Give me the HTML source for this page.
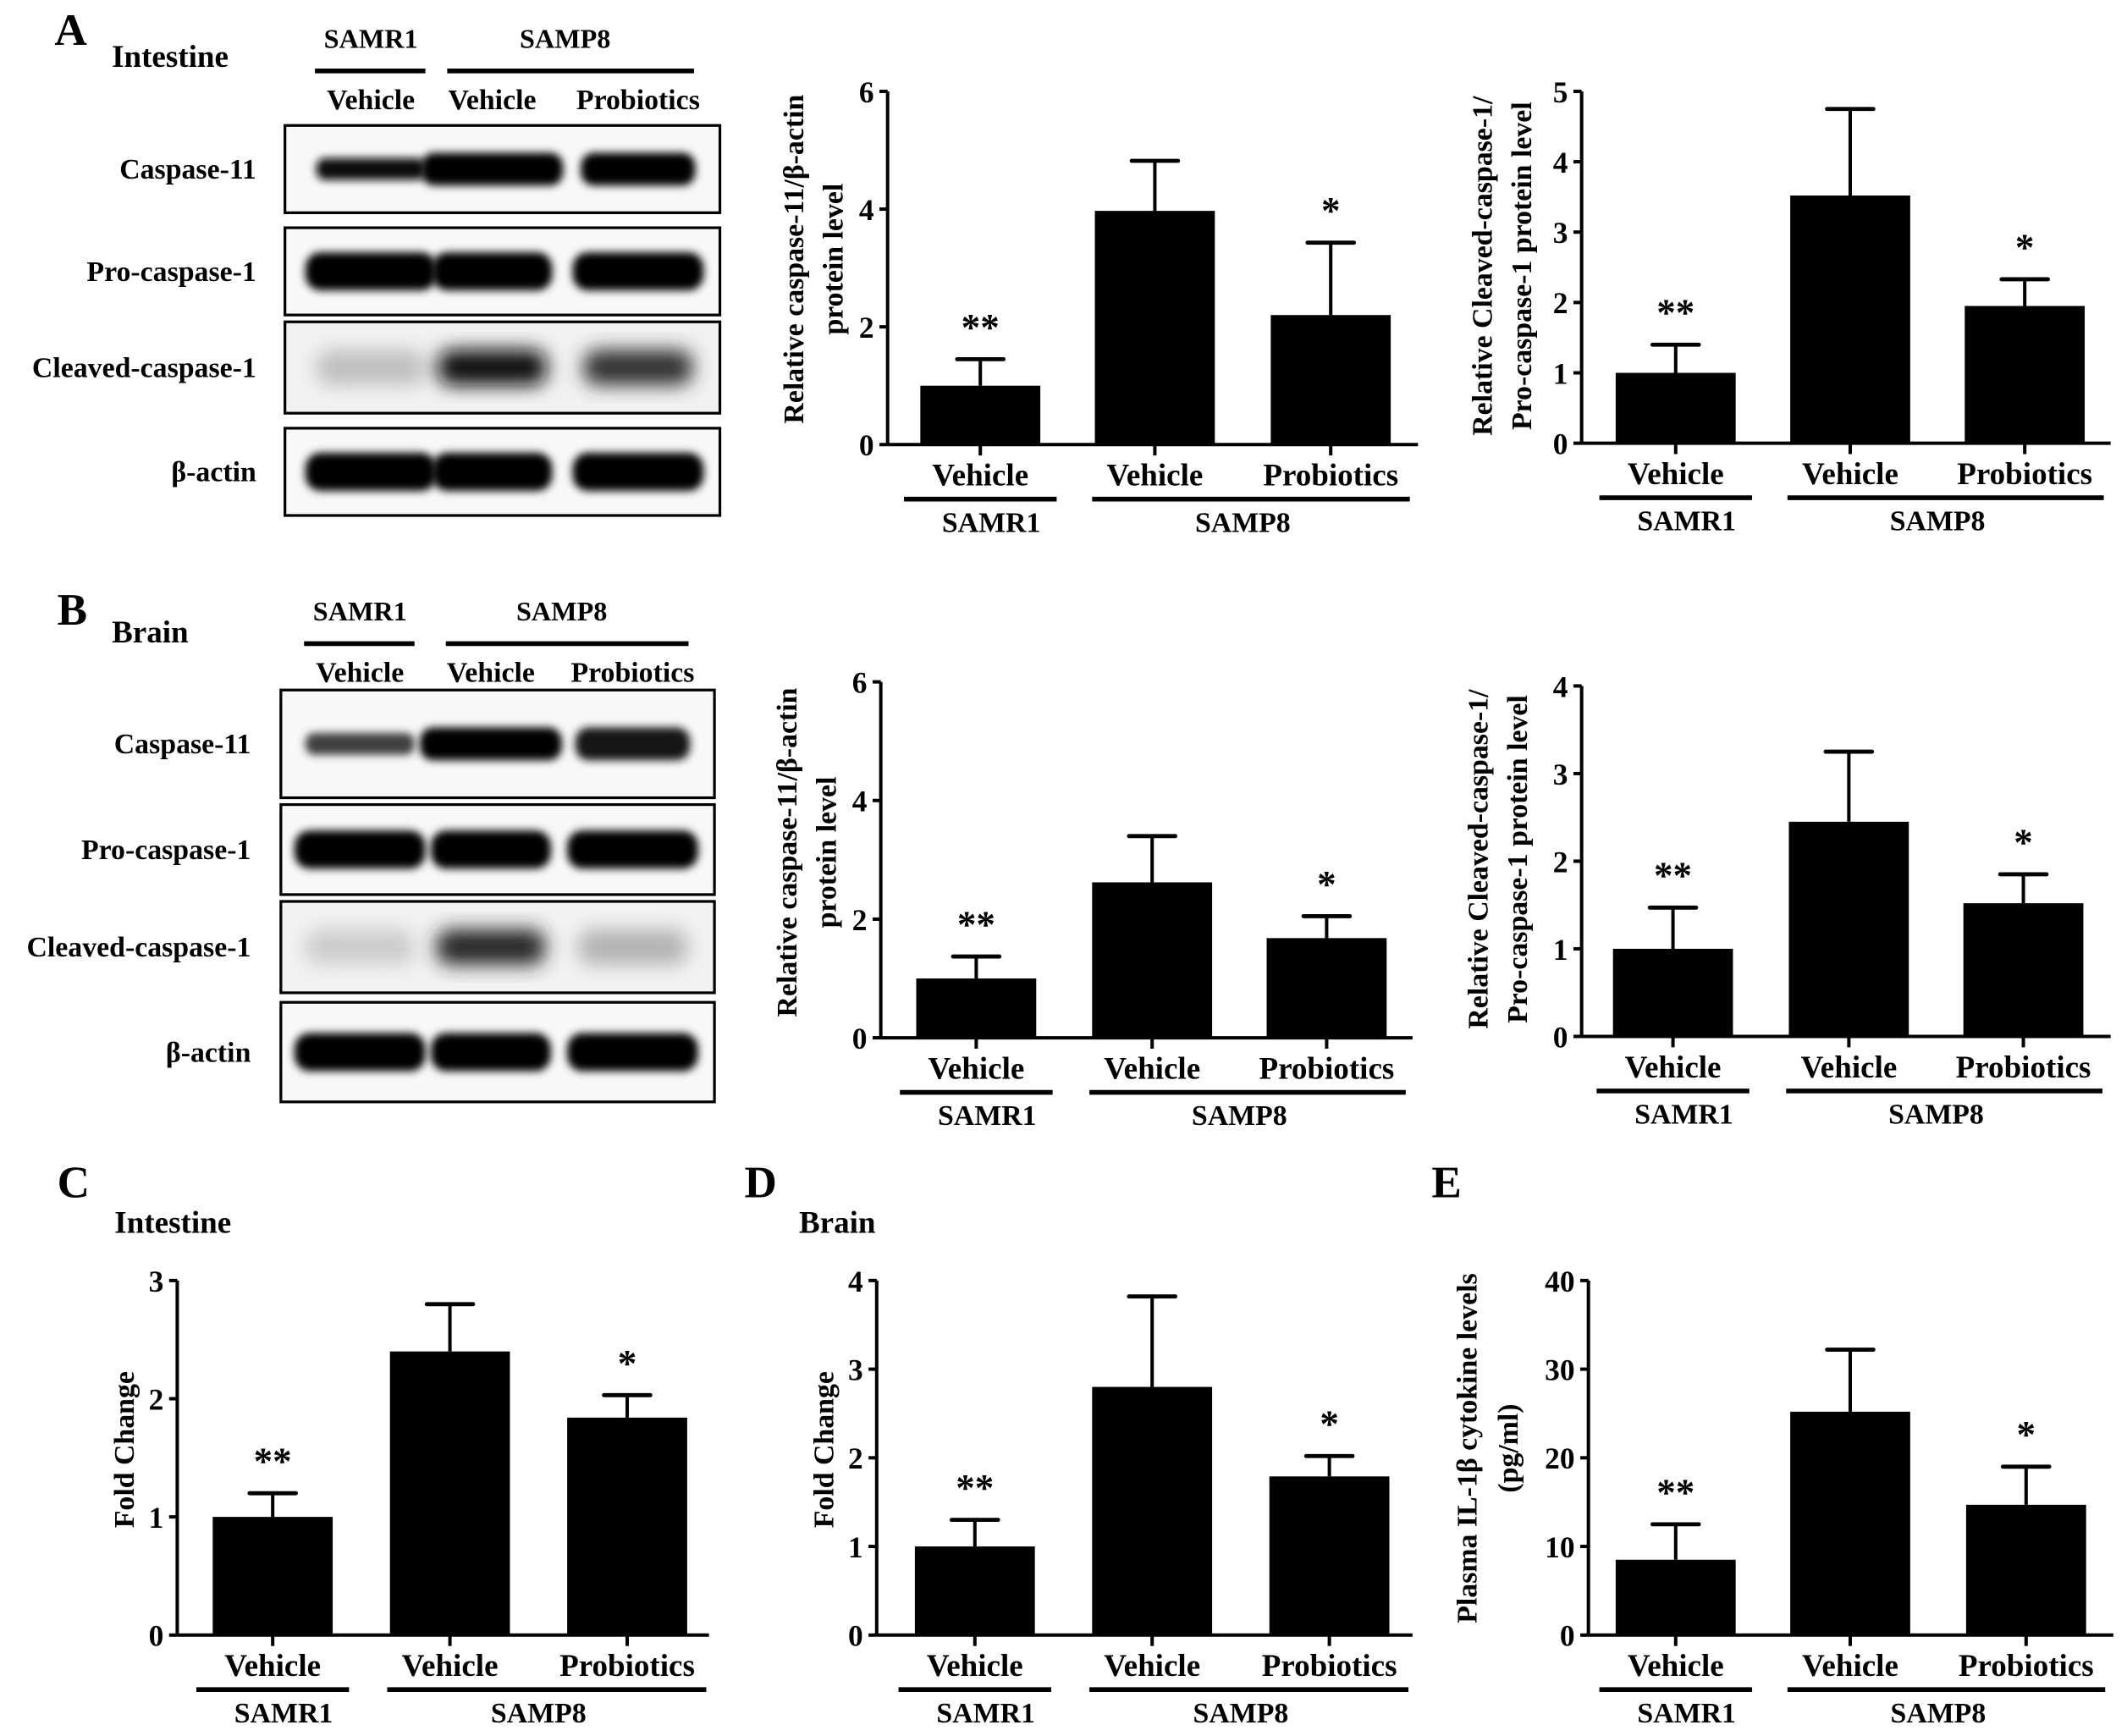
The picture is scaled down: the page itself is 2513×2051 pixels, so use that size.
<!DOCTYPE html>
<html><head><meta charset="utf-8"><style>
html,body{margin:0;padding:0;background:#fff;}
svg{display:block;}
text{font-family:"Liberation Serif",serif;font-weight:bold;fill:#000;}
</style></head><body>
<svg id="fig" width="2513" height="2051" viewBox="0 0 1560 1273" preserveAspectRatio="none" xmlns="http://www.w3.org/2000/svg">
<defs>
<filter id="blur" x="-20%" y="-50%" width="140%" height="200%"><feGaussianBlur stdDeviation="3"/></filter>
<filter id="blur2" x="-20%" y="-50%" width="140%" height="200%"><feGaussianBlur stdDeviation="7"/></filter>
</defs>
<g id="root"></g>
</svg>
<script>
// ---------- chart data ----------
const groups = ["Vehicle","Vehicle","Probiotics"];
const stars = ["**","","*"];
const a1Values = [1.0, 3.97, 2.2];
const a1Errors = [0.45, 0.85, 1.23];
const a1Ticks = [0,2,4,6];
const a2Values = [1.0, 3.52, 1.95];
const a2Errors = [0.4, 1.23, 0.38];
const a2Ticks = [0,1,2,3,4,5];
const b1Values = [1.0, 2.62, 1.68];
const b1Errors = [0.37, 0.78, 0.37];
const b1Ticks = [0,2,4,6];
const b2Values = [1.0, 2.45, 1.52];
const b2Errors = [0.47, 0.8, 0.33];
const b2Ticks = [0,1,2,3,4];
const cValues = [1.0, 2.4, 1.84];
const cErrors = [0.2, 0.4, 0.19];
const cTicks = [0,1,2,3];
const dValues = [1.0, 2.8, 1.79];
const dErrors = [0.3, 1.02, 0.23];
const dTicks = [0,1,2,3,4];
const eValues = [8.5, 25.2, 14.7];
const eErrors = [4.0, 7.0, 4.3];
const eTicks = [0,10,20,30,40];
// blot band intensities (0..1) per lane
const blotRows = ["Caspase-11","Pro-caspase-1","Cleaved-caspase-1","β-actin"];
const blotA = [[0.95,1,1],[1,1,1],[0.25,0.95,0.8],[1,1,1]];
const blotB = [[0.75,1,0.9],[1,1,1],[0.2,0.85,0.3],[1,1,1]];

const NS="http://www.w3.org/2000/svg";
const root=document.getElementById('root');
function mk(tag,attrs,parent){const e=document.createElementNS(NS,tag);for(const k in attrs)e.setAttribute(k,attrs[k]);(parent||root).appendChild(e);return e;}
function txt(s,x,y,size,anchor,parent,extra){const t=mk('text',Object.assign({x:x,y:y,'font-size':size,'text-anchor':anchor||'middle'},extra||{}),parent);t.textContent=s;return t;}

function chart(cfg){
  const g=mk('g',{});
  
  
  const max=cfg.ticks[cfg.ticks.length-1];
  const yS=v=>cfg.y0-(v/max)*(cfg.y0-cfg.yTop);
  const ya=mk('line',{x1:cfg.ax,y1:cfg.yTop,x2:cfg.ax,y2:cfg.y0,stroke:'#000','stroke-width':2.5},g);
  
  
  const xa=mk('line',{x1:cfg.ax,y1:cfg.y0,x2:cfg.xEnd,y2:cfg.y0,stroke:'#000','stroke-width':2.5},g);
  
  
  cfg.ticks.forEach(t=>{
    const y=yS(t);
    mk('line',{x1:cfg.ax-6,y1:y,x2:cfg.ax,y2:y,stroke:'#000','stroke-width':2.5},g);
    const tl=txt(String(t),cfg.ax-10,y+8,22,'end',g);
    
    
  });
  cfg.values.forEach((v,i)=>{
    const cx=cfg.centers[i], w=88;
    const top=yS(v), et=yS(v+cfg.errors[i]);
    mk('line',{x1:cx,y1:top,x2:cx,y2:et,stroke:'#000','stroke-width':2.5},g);
    mk('line',{x1:cx-17,y1:et,x2:cx+17,y2:et,stroke:'#000','stroke-width':3,'stroke-linecap':'round'},g);
    const b=mk('rect',{x:cx-w/2,y:top,width:w,height:cfg.y0-top,fill:'#000'},g);
    
    
    mk('line',{x1:cx,y1:cfg.y0,x2:cx,y2:cfg.y0+8,stroke:'#000','stroke-width':2.5},g);
    if(stars[i]){const s=txt(stars[i],cx,et-14,28,'middle',g,{'font-weight':'normal'});
      
      }
    const l=txt(groups[i],cx,cfg.y0+30,23,'middle',g);
    
    
  });
  const ly=cfg.y0+40;
  mk('line',{x1:cfg.centers[0]-56,y1:ly,x2:cfg.centers[0]+56,y2:ly,stroke:'#000','stroke-width':3.5},g);
  mk('line',{x1:cfg.centers[1]-46,y1:ly,x2:cfg.centers[2]+58,y2:ly,stroke:'#000','stroke-width':3.5},g);
  const s1=txt('SAMR1',cfg.centers[0]+8,ly+24,21,'middle',g);
  
  
  const s2=txt('SAMP8',(cfg.centers[1]+cfg.centers[2])/2,ly+24,21,'middle',g);
  
  
  cfg.ylab.forEach((s,k)=>{
    const t=txt(s,cfg.ylabX[k],cfg.ylabY,21,'middle',g,{transform:'rotate(-90 '+cfg.ylabX[k]+' '+cfg.ylabY+')'});
    
    
  });
}

function blot(cfg,data){
  const g=mk('g',{});
  
  
  cfg.boxes.forEach((bx,r)=>{
    const [y1,y2]=bx;
    mk('rect',{x:cfg.x1,y:y1,width:cfg.x2-cfg.x1,height:y2-y1,fill:r==2?'#f2f2f2':'#f8f8f8'},g);
    const cy=(y1+y2)/2;
    data[r].forEach((v,i)=>{
      const lx=cfg.lanes[i];
      const hw=r==0?(i==0?40:(i==1?52:42)):(r==2?40:(i==1?44:48));
      const h=r==2?26:(r==0?(i==0?16:24):28);
      const col=Math.round(255*(1-v));
      mk('rect',{x:lx-hw,y:cy-h/2,width:hw*2,height:h,rx:h/2.5,fill:'rgb('+col+','+col+','+col+')',filter:r==2?'url(#blur2)':'url(#blur)'},g);
    });
    const br=mk('rect',{x:cfg.x1,y:y1,width:cfg.x2-cfg.x1,height:y2-y1,fill:'none',stroke:'#000','stroke-width':2},g);
    
    
    const t=txt(blotRows[r],cfg.labX,cy+7,21,'end',g);
    
    
  });
  const h=cfg.head;
  txt('SAMR1',cfg.lanes[0],h,20,'middle',g);
  txt('SAMP8',(cfg.lanes[1]+cfg.lanes[2])/2,h,20,'middle',g);
  mk('line',{x1:cfg.lanes[0]-41,y1:h+17,x2:cfg.lanes[0]+40,y2:h+17,stroke:'#000','stroke-width':3.5},g);
  mk('line',{x1:cfg.lanes[1]-33,y1:h+17,x2:cfg.lanes[2]+41,y2:h+17,stroke:'#000','stroke-width':3.5},g);
  groups.forEach((s,i)=>txt(s,cfg.lanes[i],h+45,21,'middle',g));
}

function panelLetter(s,x,y,sub,sx,sy){
  const t=txt(s,x,y,33,'start');
  
  
  const u=txt(sub,sx,sy,23,'start');
  
  
}

panelLetter('A',40,33,'Intestine',82,49);
blot({name:'blot-a',x1:209,x2:528,lanes:[272,361,468],boxes:[[92,156],[167,231],[236,303],[314,378]],labX:188,head:35},blotA);
panelLetter('B',42,458,'Brain',82,471);
blot({name:'blot-b',x1:206,x2:524,lanes:[264,360,464],boxes:[[506,585],[590,656],[661,728],[735,808]],labX:184,head:455},blotB);
panelLetter('C',42,878,'Intestine',84,904);
panelLetter('D',546,878,'Brain',586,904);
txt('E',1050,878,33,'start');

chart({name:'chart-a-caspase11',ax:651,y0:326,yTop:67,xEnd:1040,ticks:a1Ticks,values:a1Values,errors:a1Errors,centers:[719,847,976],ylab:['Relative caspase-11/β-actin','protein level'],ylabX:[589,618],ylabY:190});
chart({name:'chart-a-cleaved',ax:1160,y0:325,yTop:67,xEnd:1548,ticks:a2Ticks,values:a2Values,errors:a2Errors,centers:[1229,1357,1485],ylab:['Relative Cleaved-caspase-1/','Pro-caspase-1 protein level'],ylabX:[1094,1123],ylabY:195});
chart({name:'chart-b-caspase11',ax:646,y0:761,yTop:500,xEnd:1036,ticks:b1Ticks,values:b1Values,errors:b1Errors,centers:[716,845,973],ylab:['Relative caspase-11/β-actin','protein level'],ylabX:[584,613],ylabY:625});
chart({name:'chart-b-cleaved',ax:1160,y0:760,yTop:503,xEnd:1548,ticks:b2Ticks,values:b2Values,errors:b2Errors,centers:[1227,1356,1484],ylab:['Relative Cleaved-caspase-1/','Pro-caspase-1 protein level'],ylabX:[1091,1120],ylabY:630});
chart({name:'chart-c-intestine',ax:130,y0:1199,yTop:939,xEnd:520,ticks:cTicks,values:cValues,errors:cErrors,centers:[200,330,460],ylab:['Fold Change'],ylabX:[98],ylabY:1063});
chart({name:'chart-d-brain',ax:643,y0:1199,yTop:939,xEnd:1036,ticks:dTicks,values:dValues,errors:dErrors,centers:[715,845,975],ylab:['Fold Change'],ylabX:[611],ylabY:1063});
chart({name:'chart-e-plasma',ax:1165,y0:1199,yTop:939,xEnd:1550,ticks:eTicks,values:eValues,errors:eErrors,centers:[1229,1357,1486],ylab:['Plasma IL-1β cytokine levels','(pg/ml)'],ylabX:[1083,1113],ylabY:1062});
</script>
</body></html>
